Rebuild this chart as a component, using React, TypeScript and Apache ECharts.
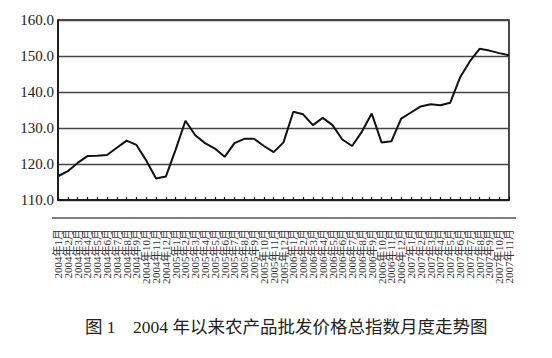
import React, { useEffect, useRef } from 'react';
import * as echarts from 'echarts';

const categories = [
  '2004年1月', '2004年2月', '2004年3月', '2004年4月', '2004年5月', '2004年6月',
  '2004年7月', '2004年8月', '2004年9月', '2004年10月', '2004年11月', '2004年12月',
  '2005年1月', '2005年2月', '2005年3月', '2005年4月', '2005年5月', '2005年6月',
  '2005年7月', '2005年8月', '2005年9月', '2005年10月', '2005年11月', '2005年12月',
  '2006年1月', '2006年2月', '2006年3月', '2006年4月', '2006年5月', '2006年6月',
  '2006年7月', '2006年8月', '2006年9月', '2006年10月', '2006年11月', '2006年12月',
  '2007年1月', '2007年2月', '2007年3月', '2007年4月', '2007年5月', '2007年6月',
  '2007年7月', '2007年8月', '2007年9月', '2007年10月', '2007年11月',
];

const indexValues = [
  116.6, 118.0, 120.3, 122.2, 122.3, 122.5,
  124.5, 126.5, 125.3, 121.0, 116.0, 116.5,
  124.0, 132.0, 128.0, 125.8, 124.3, 122.0,
  125.8, 127.0, 127.0, 125.0, 123.3, 126.0,
  134.5, 133.8, 130.8, 132.8, 130.8, 126.8,
  125.0, 129.0, 134.0, 126.0, 126.3, 132.6,
  134.3, 136.0, 136.6, 136.3, 137.0, 144.0,
  148.5, 152.0, 151.5, 150.8, 150.2,
];

const yMin = 110;
const yMax = 160;
const yStep = 10;

const captionText = '图 1\u30002004 年以来农产品批发价格总指数月度走势图';

const SERIF = "'Liberation Serif', 'Noto Sans CJK SC', serif";

export default function App() {
  const ref = useRef<HTMLDivElement>(null);

  useEffect(() => {
    if (!ref.current) return;
    const chart = echarts.init(ref.current, undefined, { renderer: 'svg' });
    chart.setOption({
      animation: false,
      backgroundColor: '#ffffff',
      grid: {
        left: 58,
        right: 43,
        top: 20,
        bottom: 158,
        show: true,
        borderColor: '#111',
        borderWidth: 1.5,
      },
      xAxis: {
        type: 'category',
        data: categories,
        boundaryGap: false,
        axisLine: { show: true, lineStyle: { color: '#111', width: 1.5 } },
        axisTick: {
          show: true,
          inside: true,
          length: 3,
          interval: 0,
          lineStyle: { color: '#111', width: 1.2 },
        },
        axisLabel: {
          interval: 0,
          rotate: 90,
          margin: 29,
          fontSize: 11,
          color: '#333',
          fontFamily: SERIF,
        },
        splitLine: { show: false },
      },
      yAxis: {
        type: 'value',
        min: yMin,
        max: yMax,
        interval: yStep,
        axisLine: { show: true, lineStyle: { color: '#111', width: 1.5 } },
        axisTick: { show: false },
        axisLabel: {
          margin: 4,
          fontSize: 15,
          color: '#222',
          fontFamily: SERIF,
          formatter: (v: number) => v.toFixed(1),
        },
        splitLine: { show: true, lineStyle: { color: '#444', width: 1.3 } },
      },
      series: [
        {
          type: 'line',
          data: indexValues,
          symbol: 'none',
          lineStyle: { color: '#111', width: 2 },
        },
      ],
      graphic: [
        {
          type: 'line',
          shape: { x1: 52, y1: 218, x2: 516, y2: 218 },
          style: { stroke: '#555', lineWidth: 1.5 },
          silent: true,
        },
        {
          type: 'text',
          left: 85,
          top: 318,
          style: {
            text: captionText,
            fontSize: 17.5,
            fontFamily: SERIF,
            fill: '#222',
          },
        },
      ],
    });
    return () => chart.dispose();
  }, []);

  return (
    <div
      ref={ref}
      style={{ position: 'fixed', left: 0, top: 0, width: 552, height: 358, background: '#fff' }}
    />
  );
}
